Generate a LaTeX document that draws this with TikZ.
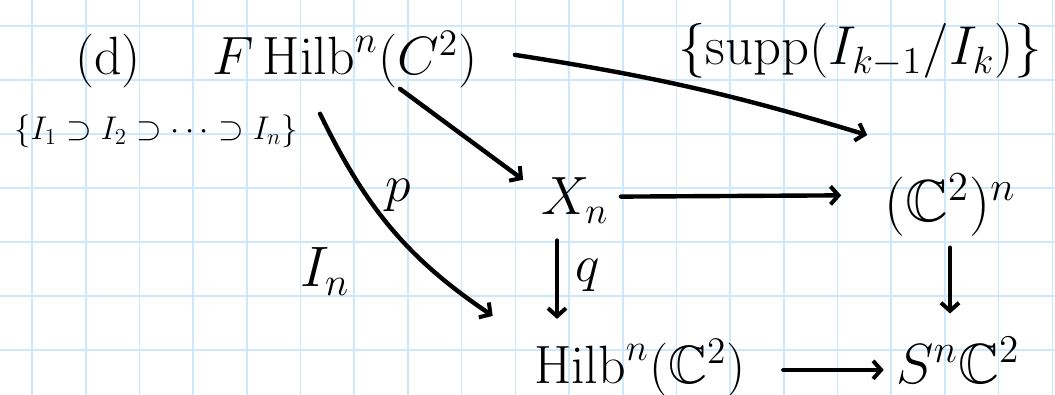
\documentclass[tikz,border=0pt]{standalone}
\usepackage{amssymb}
\usetikzlibrary{arrows.meta,calc}
\definecolor{gridblue}{RGB}{205,232,250}
\tikzset{
  obj/.style={font=\huge, scale=1.3, inner sep=1.5pt, anchor=base},
  lbl/.style={font=\huge, scale=1.25, inner sep=1pt, anchor=base},
  supplbl/.style={font=\huge, scale=1.32, inner sep=1pt, anchor=base},
  chainlbl/.style={font=\LARGE, scale=0.95, inner sep=1pt, anchor=base},
  arr/.style={line width=2.2pt, line cap=round, -{Straight Barb[length=4pt,width=9pt,line width=2pt]}},
  gridline/.style={draw=gridblue, line width=0.8pt},
}
\begin{document}
\begin{tikzpicture}[x=0.5pt,y=0.5pt]
\useasboundingbox (0,0) rectangle (1055,-395);
\fill[white] (0,0) rectangle (1055,-395);
\foreach \i in {0,...,19} \draw[gridline] ({32+53.7*\i},0) -- ({32+53.7*\i},-395);
\foreach \j in {0,...,6} \draw[gridline] (0,{-26-54*\j}) -- (1055,{-26-54*\j});

\node[obj] (d) at (108,-75) {(d)};
\node[obj] (FH) at (345,-75) {$F\,\mathrm{Hilb}^n(C^2)$};
\node[chainlbl] (chain) at (156,-140) {$\{I_1\supset I_2\supset\cdots\supset I_n\}$};
\node[obj] (Xn) at (575,-215) {$X_n$};
\node[obj, scale=1.1] (Cn) at (950,-222) {$(\mathbb{C}^2)^n$};
\node[obj] (Hilb) at (640,-383) {$\mathrm{Hilb}^n(\mathbb{C}^2)$};
\node[obj, scale=1.05] (Sn) at (958,-383) {$S^n\mathbb{C}^2$};
\node[lbl] (p) at (398,-202) {$p$};
\node[lbl, scale=1.1] (In) at (325,-287) {$I_n$};
\node[lbl] (q) at (588,-282) {$q$};
\node[supplbl] (supp) at (860,-65) {$\{\mathrm{supp}(I_{k-1}/I_k)\}$};

\draw[arr] ($(FH.east)+(33,5)$) to[bend left=4] ($(Cn.north west)+(-12,34)$);
\draw[arr] ($(FH.south)+(55,4)$) -- ($(Xn.north west)+(-14,-6)$);
\draw[arr] ($(chain.east)+(20,18)$) to[out=-64,in=146] ($(Hilb.north west)+(-37,19)$);
\draw[arr] ($(Xn.east)+(8,4)$) -- ($(Cn.west)+(-38,10)$);
\draw[arr] ($(Xn.south)+(-18,-13)$) -- ($(Xn.south |- Hilb.north)+(-18,16)$);
\draw[arr] ($(Cn.south)+(0,-6)$) -- ($(Cn.south |- Sn.north)+(0,19)$);
\draw[arr] ($(Hilb.east)+(33,-2)$) -- ($(Hilb.east -| Sn.west)+(-8,-2)$);
\end{tikzpicture}
\end{document}
